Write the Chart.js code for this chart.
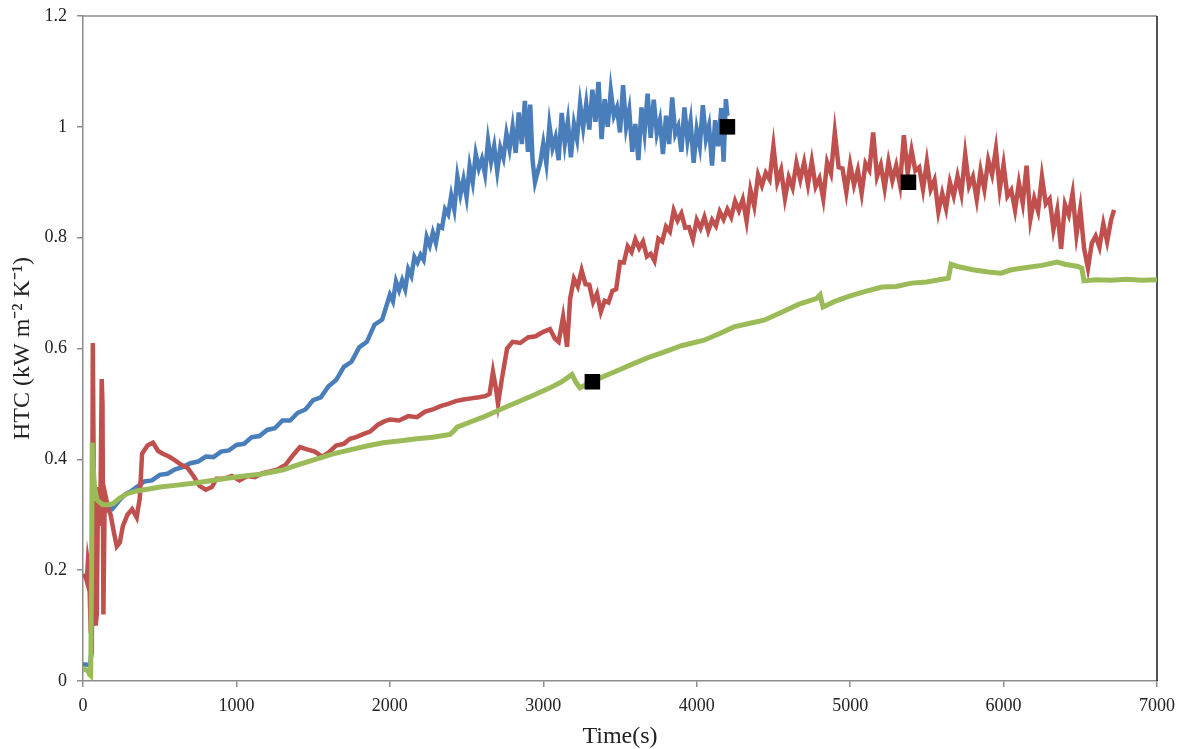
<!DOCTYPE html>
<html>
<head>
<meta charset="utf-8">
<script src="https://cdn.jsdelivr.net/npm/chart.js@4.4.0/dist/chart.umd.min.js"></script>
<style>
  html, body { margin: 0; padding: 0; background: #fff; }
</style>
</head>
<body>
<canvas id="htcChart" width="1186" height="749"></canvas>
<script>
// [time (s), HTC (kW m-2 K-1)]
const blueRun = [
  [0,.03],[20,.03],[45,.028],[55,.05],[62,.2],[70,.3],[80,.322],[95,.31],[110,.315],[130,.302],
  [160,.312],[190,.31],[220,.32],[250,.33],[280,.338],[310,.342],[350,.35],[400,.36],[450,.362],[500,.372],
  [550,.374],[600,.382],[650,.386],[700,.393],[750,.396],[800,.405],[850,.404],[900,.414],[950,.416],[1000,.426],
  [1050,.428],[1100,.44],[1150,.442],[1200,.453],[1250,.456],[1300,.47],[1350,.47],[1400,.484],[1450,.49],[1500,.507],
  [1550,.512],[1600,.532],[1650,.543],[1700,.567],[1750,.576],[1800,.602],[1850,.612],[1900,.643],[1950,.652],
  [2000,.697],[2020,.685],[2040,.721],[2060,.705],[2080,.723],[2100,.707],[2120,.743],[2140,.731],[2160,.765],[2180,.755],
  [2200,.769],[2220,.76],[2240,.801],[2260,.786],[2280,.809],[2300,.79],[2320,.821],[2340,.818],[2360,.851],[2380,.842],
  [2400,.876],[2420,.851],[2440,.91],[2460,.878],[2480,.905],[2500,.873],[2520,.929],[2540,.90],[2560,.951],[2580,.925],
  [2600,.942],[2620,.915],[2640,.975],[2660,.937],[2680,.965],[2700,.92],[2720,.962],[2740,.944],[2760,.988],[2780,.96],
  [2800,1.0],[2820,.953],[2840,1.026],[2860,.969],[2880,1.047],[2900,.955],[2915,1.04],[2930,.94],[2946,.90],[2960,.915],
  [2980,.935],[3000,.97],[3020,.934],[3040,1.003],[3060,.962],[3080,.981],[3100,.94],[3120,1.025],[3140,.97],[3160,1.01],
  [3180,.945],[3200,1.005],[3220,.978],[3240,1.041],[3260,.999],[3280,1.042],[3300,.995],[3320,1.067],[3340,1.009],[3360,1.081],
  [3380,.978],[3400,1.05],[3420,1.0],[3440,1.065],[3460,1.02],[3480,1.035],[3500,.99],[3520,1.075],[3540,1.0],[3560,1.03],
  [3580,.955],[3600,1.005],[3620,.94],[3640,1.035],[3660,.99],[3680,1.06],[3700,.98],[3720,1.049],[3740,.988],[3760,1.012],
  [3780,.951],[3800,1.02],[3820,.969],[3840,1.053],[3860,.987],[3880,1.001],[3900,.955],[3920,1.035],[3940,.975],[3960,1.01],
  [3980,.935],[4000,.995],[4020,.965],[4040,1.039],[4060,.978],[4080,1.002],[4100,.93],[4120,1.012],[4140,.965],[4160,1.034],
  [4175,.937],[4190,1.05],[4200,1.02]
];

const redRun = [
  [0,.19],[15,.19],[25,.18],[32,.215],[40,.20],[50,.09],[58,.08],[64,.61],[68,.45],[74,.2],
  [82,.1],[90,.12],[98,.35],[106,.28],[114,.33],[122,.545],[127,.50],[133,.12],[140,.30],[150,.33],
  [165,.31],[180,.30],[200,.27],[220,.243],[240,.25],[260,.28],[290,.30],[320,.31],[350,.295],[370,.33],
  [385,.41],[420,.425],[456,.43],[490,.415],[520,.41],[560,.405],[600,.398],[640,.39],[680,.385],[720,.37],
  [760,.352],[800,.345],[840,.35],[870,.365],[920,.365],[970,.37],[1020,.362],[1070,.37],[1120,.368],[1170,.375],
  [1220,.378],[1270,.382],[1320,.39],[1370,.408],[1414,.422],[1460,.418],[1510,.414],[1560,.405],[1600,.412],[1650,.425],
  [1700,.428],[1740,.437],[1780,.44],[1830,.446],[1871,.45],[1920,.462],[1960,.468],[2000,.472],[2060,.47],[2120,.478],
  [2177,.476],[2230,.486],[2280,.49],[2330,.496],[2380,.50],[2430,.505],[2480,.508],[2530,.51],[2580,.512],[2620,.514],
  [2650,.518],[2672,.558],[2690,.53],[2705,.50],[2730,.545],[2764,.60],[2800,.612],[2850,.61],[2900,.62],[2950,.622],
  [3000,.63],[3044,.635],[3075,.618],[3100,.612],[3129,.657],[3155,.603],[3175,.69],
  [3200,.726],[3225,.712],[3250,.741],[3275,.716],[3300,.715],[3325,.684],[3350,.699],[3375,.666],[3400,.686],[3425,.683],
  [3450,.704],[3475,.707],[3500,.756],[3525,.755],[3550,.784],[3575,.774],[3600,.797],[3625,.781],[3650,.793],[3675,.766],
  [3700,.771],[3725,.758],[3750,.798],[3775,.793],[3800,.82],[3825,.811],[3850,.849],[3875,.831],[3900,.844],[3925,.818],
  [3950,.819],[3975,.797],[4000,.832],[4025,.817],[4050,.837],[4075,.812],[4100,.832],[4125,.821],[4150,.847],[4175,.833],
  [4200,.851],[4225,.837],[4250,.866],[4275,.849],[4300,.869],[4325,.83],[4350,.886],[4375,.857],[4400,.913],[4425,.894],
  [4450,.917],[4475,.905],[4500,.965],[4525,.90],[4550,.922],[4575,.871],[4600,.909],[4625,.89],[4650,.935],[4675,.905],
  [4700,.936],[4725,.896],[4750,.938],[4775,.892],[4800,.907],[4825,.87],[4850,.936],[4875,.916],[4900,.99],[4925,.927],
  [4950,.925],[4975,.882],[5000,.932],[5025,.895],[5050,.922],[5075,.88],[5100,.934],[5125,.922],[5150,.99],[5175,.91],
  [5200,.931],[5225,.889],[5250,.937],[5275,.903],[5300,.93],[5325,.895],[5350,.985],[5375,.917],[5400,.958],[5425,.921],
  [5450,.927],[5475,.887],[5500,.937],[5525,.887],[5550,.904],[5575,.847],[5600,.88],[5625,.852],[5650,.90],[5675,.875],
  [5700,.911],[5725,.879],[5750,.95],[5775,.893],[5800,.91],[5825,.869],[5850,.921],[5875,.887],[5900,.94],[5925,.914],
  [5950,.96],[5975,.887],[6000,.932],[6025,.875],[6050,.886],[6075,.85],[6100,.899],[6125,.862],[6150,.93],[6175,.833],
  [6200,.871],[6225,.848],[6250,.91],[6275,.861],[6300,.87],[6325,.815],[6350,.85],[6375,.78],[6400,.86],[6425,.841],
  [6450,.88],[6475,.805],[6500,.852],[6525,.78],[6550,.745],[6575,.79],[6600,.803],[6625,.783],[6650,.825],[6675,.793],
  [6700,.831],[6720,.85]
];

const greenRun = [
  [0,.022],[20,.02],[35,.018],[42,.012],[50,.01],[56,.2],[60,.43],[66,.39],[75,.35],[91,.327],
  [110,.322],[130,.318],[160,.318],[196,.32],[240,.33],[287,.338],[350,.343],[420,.346],[502,.35],[600,.353],
  [717,.357],[820,.361],[939,.366],[1050,.37],[1154,.373],[1250,.378],[1304,.381],[1400,.39],[1525,.401],[1630,.41],
  [1740,.417],[1850,.424],[1955,.43],[2060,.433],[2177,.437],[2280,.44],[2392,.445],[2420,.452],[2438,.458],[2520,.467],
  [2607,.476],[2720,.49],[2829,.503],[2940,.516],[3044,.529],[3120,.54],[3187,.553],[3215,.538],[3239,.529],[3280,.535],
  [3318,.54],[3389,.549],[3500,.562],[3600,.574],[3696,.585],[3800,.595],[3900,.605],[4048,.615],[4150,.627],[4243,.639],
  [4340,.645],[4439,.651],[4550,.665],[4667,.68],[4780,.69],[4804,.697],[4823,.675],[4900,.685],[5000,.695],[5100,.703],
  [5208,.711],[5300,.712],[5400,.718],[5500,.72],[5599,.725],[5640,.727],[5658,.752],[5700,.748],[5800,.742],[5900,.738],
  [5984,.736],[6050,.742],[6150,.746],[6250,.75],[6350,.756],[6400,.752],[6485,.748],[6510,.745],[6524,.722],[6600,.724],
  [6700,.723],[6800,.725],[6900,.723],[7000,.724]
];

const endMarkers = [[3320,.54],[4200,1.0],[5380,.90]];

const xTickValues = [0, 1000, 2000, 3000, 4000, 5000, 6000, 7000];
const yTickLabels = ['0', '0.2', '0.4', '0.6', '0.8', '1', '1.2'];

const toXY = run => run.map(([t, v]) => ({ x: t, y: v }));

const serif = 'Liberation Serif, "Times New Roman", serif';

// top and right edges of the plot box
const frameBox = {
  id: 'frameBox',
  beforeDatasetsDraw(chart) {
    const { ctx, chartArea: a } = chart;
    ctx.save();
    ctx.lineWidth = 1.5;
    ctx.strokeStyle = '#8c8c8c';
    ctx.beginPath(); ctx.moveTo(a.left, a.top); ctx.lineTo(a.right, a.top); ctx.stroke();
    ctx.strokeStyle = '#1a1a1a';
    ctx.beginPath(); ctx.moveTo(a.right, a.top); ctx.lineTo(a.right, a.bottom); ctx.stroke();
    ctx.restore();
  }
};

new Chart(document.getElementById('htcChart'), {
  type: 'line',
  data: {
    datasets: [
      { label: 'end', type: 'scatter', data: toXY(endMarkers), order: 0,
        pointStyle: 'rect', pointRadius: 11, backgroundColor: '#000', borderColor: '#000', borderWidth: 0 },
      { label: 'green', data: toXY(greenRun), order: 1, borderColor: '#9bbb59', borderWidth: 5, pointRadius: 0, tension: 0 },
      { label: 'red', data: toXY(redRun), order: 2, borderColor: '#c0504d', borderWidth: 4.5, pointRadius: 0, tension: 0 },
      { label: 'blue', data: toXY(blueRun), order: 3, borderColor: '#4a7ebb', borderWidth: 4.5, pointRadius: 0, tension: 0 }
    ]
  },
  options: {
    responsive: false, animation: false, devicePixelRatio: 1,
    layout: { padding: { top: 16, right: 29, left: 0, bottom: 0 } },
    plugins: { legend: { display: false }, tooltip: { enabled: false } },
    scales: {
      x: {
        type: 'linear', min: 0, max: 7000,
        afterFit: s => { s.height = 68; s.paddingLeft = 0; s.paddingRight = 0; },
        afterBuildTicks: s => { s.ticks = xTickValues.map(v => ({ value: v })); },
        ticks: { color: '#222', font: { family: serif, size: 18 }, padding: 8, maxRotation: 0, autoSkip: false,
          callback: v => String(v) },
        grid: { drawOnChartArea: false, tickLength: 6, color: '#8c8c8c', lineWidth: 1.5 },
        border: { color: '#8c8c8c', width: 1.5 },
        title: { display: true, text: 'Time(s)', color: '#222', font: { family: serif, size: 24 }, padding: { top: 0, bottom: -2 } }
      },
      y: {
        type: 'linear', min: 0, max: 1.2,
        afterFit: s => { s.width = 83; s.paddingTop = 0; s.paddingBottom = 0; },
        afterBuildTicks: s => { s.ticks = yTickLabels.map(l => ({ value: parseFloat(l) })); },
        ticks: { color: '#222', font: { family: serif, size: 18 }, padding: 10,
          callback: (v, i) => yTickLabels[i] },
        grid: { drawOnChartArea: false, tickLength: 6, color: '#8c8c8c', lineWidth: 1.5 },
        border: { color: '#8c8c8c', width: 1.5 },
        title: { display: true, text: 'HTC (kW m\u207B\u00B2 K\u207B\u00B9)', color: '#222', font: { family: serif, size: 24 }, padding: { top: 8, bottom: 0 } }
      }
    }
  },
  plugins: [frameBox]
});
</script>
</body>
</html>
